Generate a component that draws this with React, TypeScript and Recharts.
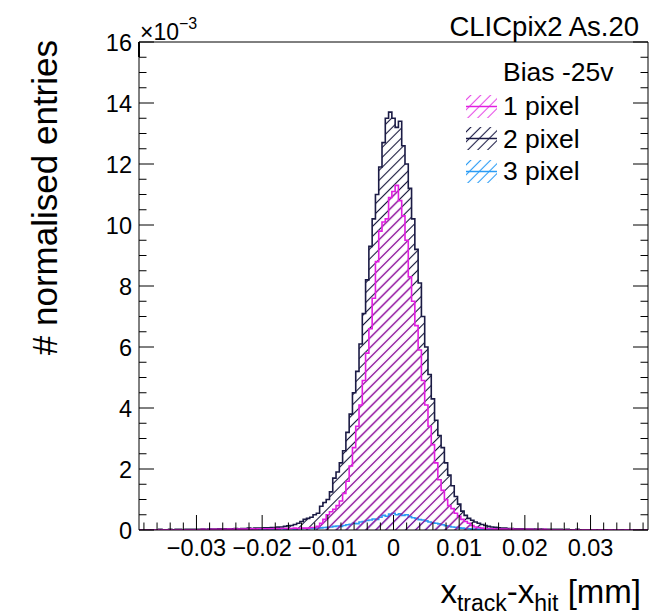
import { ComposedChart, Area, XAxis, YAxis, Legend } from "recharts";

// histogram binning (mm) and y values in units of 1e-3
const X_MIN = -0.03875;
const X_MAX = 0.03875;
const BIN_WIDTH = 0.0005;

const X_MAJOR = [-0.03, -0.02, -0.01, 0, 0.01, 0.02, 0.03];
const X_MAJOR_LABELS = ["\u22120.03", "\u22120.02", "\u22120.01", "0", "0.01", "0.02", "0.03"];
const X_MINOR = [
  -0.038, -0.036, -0.034, -0.032, -0.03, -0.028, -0.026, -0.024, -0.022, -0.02,
  -0.018, -0.016, -0.014, -0.012, -0.01, -0.008, -0.006, -0.004, -0.002, 0,
  0.002, 0.004, 0.006, 0.008, 0.01, 0.012, 0.014, 0.016, 0.018, 0.02,
  0.022, 0.024, 0.026, 0.028, 0.03, 0.032, 0.034, 0.036, 0.038,
];
const Y_MINOR = Array.from({ length: 33 }, (_, i) => i * 0.5);

// 2 pixel clusters
const TWO_PIXEL = [
  0.01, 0.01, 0.0, 0.01, 0.01, 0.01, 0.02, 0.01, 0.01, 0.02, 0.01, 0.02, 0.02, 0.01, 0.02, 0.02, 0.02, 0.02,
  0.02, 0.03, 0.02, 0.03, 0.03, 0.03, 0.04, 0.03, 0.04, 0.04,
  0.04, 0.05, 0.04, 0.05, 0.05, 0.06, 0.05, 0.06, 0.06,
  0.06, 0.07, 0.07, 0.08, 0.08, 0.1, 0.1, 0.12, 0.14, 0.15, 0.18,
  0.22, 0.28, 0.35, 0.38, 0.42, 0.5, 0.55, 0.78, 0.9, 1.0,
  1.25, 1.7, 1.9, 2.2, 2.6, 3.2, 3.8, 4.5, 5.2, 6.1,
  7.1, 8.2, 9.3, 10.2, 11.0, 11.9, 12.7, 13.5, 13.7,
  13.5,
  13.2, 13.4, 12.6, 12.0, 11.2, 10.2, 9.2, 8.1, 7.0, 6.0,
  5.1, 4.3, 3.6, 3.1, 2.7, 2.2, 1.8, 1.45, 1.1, 0.85,
  0.62, 0.48, 0.38, 0.32, 0.26, 0.22, 0.18, 0.15, 0.12, 0.1,
  0.09, 0.07, 0.06, 0.06, 0.05, 0.05, 0.04, 0.04, 0.04, 0.03,
  0.03, 0.03, 0.03, 0.02, 0.03, 0.02, 0.02, 0.02, 0.02, 0.02,
  0.02, 0.01, 0.02, 0.01, 0.01, 0.02, 0.01, 0.01, 0.01, 0.01,
  0.01, 0.01, 0.0, 0.01, 0.01, 0.0, 0.01, 0.01, 0.0, 0.01, 0.0, 0.01, 0.0, 0.0, 0.01, 0.0, 0.01,
];

// 1 pixel clusters
const ONE_PIXEL = [
  0.01, 0.0, 0.01, 0.0, 0.01, 0.01, 0.0, 0.01, 0.01, 0.01, 0.0, 0.01, 0.01, 0.01, 0.01, 0.01, 0.01, 0.01,
  0.01, 0.02, 0.01, 0.02, 0.02, 0.02, 0.02, 0.02, 0.02, 0.03,
  0.02, 0.03, 0.03, 0.03, 0.03, 0.03, 0.04, 0.03, 0.04,
  0.04, 0.04, 0.04, 0.04, 0.05, 0.04, 0.05, 0.05, 0.05, 0.05, 0.06,
  0.05, 0.06, 0.06, 0.06, 0.08, 0.08, 0.12, 0.22, 0.35, 0.5,
  0.6, 0.68, 0.8, 0.95, 1.2, 1.6, 2.1, 2.7, 3.4, 4.1,
  4.9, 5.8, 6.6, 7.6, 8.8, 9.8, 10.1, 10.2, 10.9,
  11.1,
  11.3, 10.8, 10.3, 9.5, 8.3, 7.5, 6.7, 5.9, 4.9, 4.1,
  3.4, 2.8, 2.2, 1.65, 1.3, 1.0, 0.8, 0.7, 0.55, 0.45,
  0.35, 0.28, 0.22, 0.15, 0.1, 0.08, 0.06, 0.05, 0.04, 0.04,
  0.03, 0.03, 0.03, 0.03, 0.02, 0.03, 0.02, 0.02, 0.02, 0.02,
  0.02, 0.02, 0.01, 0.02, 0.01, 0.02, 0.01, 0.01, 0.01, 0.01,
  0.01, 0.01, 0.01, 0.0, 0.01, 0.01, 0.0, 0.01, 0.01, 0.0,
  0.01, 0.0, 0.01, 0.0, 0.0, 0.01, 0.0, 0.01, 0.0, 0.0, 0.01, 0.0, 0.0, 0.01, 0.0, 0.0, 0.01,
];

// 3 pixel clusters
const THREE_PIXEL = [
  0.01, 0.0, 0.0, 0.01, 0.0, 0.01, 0.0, 0.0, 0.01, 0.0, 0.01, 0.01, 0.0, 0.01, 0.01, 0.0, 0.01, 0.01,
  0.01, 0.01, 0.01, 0.02, 0.01, 0.01, 0.02, 0.01, 0.02, 0.02,
  0.02, 0.01, 0.02, 0.02, 0.02, 0.03, 0.02, 0.02, 0.03,
  0.02, 0.03, 0.03, 0.02, 0.03, 0.03, 0.04, 0.03, 0.04, 0.04, 0.03,
  0.04, 0.04, 0.05, 0.04, 0.05, 0.05, 0.06, 0.07, 0.08, 0.09,
  0.1, 0.12, 0.13, 0.12, 0.15, 0.17, 0.19, 0.22, 0.21, 0.26,
  0.28, 0.31, 0.33, 0.36, 0.35, 0.42, 0.48, 0.45, 0.52,
  0.55,
  0.5, 0.53, 0.48, 0.5, 0.44, 0.4, 0.38, 0.34, 0.33, 0.3,
  0.26, 0.24, 0.22, 0.2, 0.17, 0.14, 0.12, 0.1, 0.09, 0.07,
  0.06, 0.05, 0.04, 0.03, 0.03, 0.03, 0.03, 0.02, 0.03, 0.02,
  0.02, 0.02, 0.02, 0.01, 0.02, 0.01, 0.02, 0.01, 0.01, 0.01,
  0.01, 0.01, 0.01, 0.0, 0.01, 0.01, 0.0, 0.01, 0.01, 0.0,
  0.01, 0.0, 0.01, 0.0, 0.0, 0.01, 0.0, 0.0, 0.01, 0.0,
  0.0, 0.01, 0.0, 0.0, 0.01, 0.0, 0.0, 0.0, 0.01, 0.0, 0.0, 0.01, 0.0, 0.0, 0.0, 0.01, 0.0,
];

const TITLE = "CLICpix2 As.20";
const LEGEND_TITLE = "Bias -25v";
const SERIES_LABELS = ["1 pixel", "2 pixel", "3 pixel"];

const FONT = "'Liberation Sans', Arial, Helvetica, sans-serif";
const MAGENTA = "#e11ee1";
const NAVY = "#1b1b45";
const BLUE = "#2b9cf5";

const legendStyle = [
  { id: "lg1", color: MAGENTA, opacity: 0.8 },
  { id: "lg2", color: NAVY, opacity: 1 },
  { id: "lg3", color: BLUE, opacity: 1 },
];

// one row per bin lower edge, plus closing edge so the last step is drawn
const rows = TWO_PIXEL.map((_, i) => ({
  x: X_MIN + i * BIN_WIDTH,
  one: ONE_PIXEL[i],
  two: TWO_PIXEL[i],
  three: THREE_PIXEL[i],
}));
rows.push({
  x: X_MAX,
  one: ONE_PIXEL[ONE_PIXEL.length - 1],
  two: TWO_PIXEL[TWO_PIXEL.length - 1],
  three: THREE_PIXEL[THREE_PIXEL.length - 1],
});

const isMajorX = (v: number) => Math.abs(v * 100 - Math.round(v * 100)) < 1e-6;
const isMajorY = (v: number) => Math.abs(v / 2 - Math.round(v / 2)) < 1e-6;
const MAJOR_LEN = 15;
const MINOR_LEN = 7.5;
const TICK_FONT = 23.5;

const Hatch = ({ id, color, width }: { id: string; color: string; width: number }) => (
  <pattern id={id} patternUnits="userSpaceOnUse" width={7} height={7} patternTransform="rotate(45)">
    <line x1={3.5} y1={-1} x2={3.5} y2={8} stroke={color} strokeWidth={width} />
  </pattern>
);

const BottomTick = (props: any) => {
  const { x, y, payload } = props;
  const v = payload.value as number;
  const major = isMajorX(v);
  const idx = X_MAJOR.findIndex((m) => Math.abs(m - v) < 1e-9);
  return (
    <g>
      <line x1={x} x2={x} y1={y} y2={y - (major ? MAJOR_LEN : MINOR_LEN)} stroke="#000" strokeWidth={1} />
      {idx >= 0 && (
        <text x={x} y={y + 26} textAnchor="middle" fontSize={TICK_FONT} fontFamily={FONT} fill="#000">
          {X_MAJOR_LABELS[idx]}
        </text>
      )}
    </g>
  );
};

const TopTick = (props: any) => {
  const { x, y, payload } = props;
  const major = isMajorX(payload.value);
  return <line x1={x} x2={x} y1={y} y2={y + (major ? MAJOR_LEN : MINOR_LEN)} stroke="#000" strokeWidth={1} />;
};

const LeftTick = (props: any) => {
  const { x, y, payload } = props;
  const v = payload.value as number;
  const major = isMajorY(v);
  return (
    <g>
      <line x1={x} x2={x + (major ? MAJOR_LEN : MINOR_LEN)} y1={y} y2={y} stroke="#000" strokeWidth={1} />
      {major && (
        <text x={x - 7} y={y + 8.5} textAnchor="end" fontSize={TICK_FONT} fontFamily={FONT} fill="#000">
          {v}
        </text>
      )}
    </g>
  );
};

const RightTick = (props: any) => {
  const { x, y, payload } = props;
  const major = isMajorY(payload.value);
  return <line x1={x} x2={x - (major ? MAJOR_LEN : MINOR_LEN)} y1={y} y2={y} stroke="#000" strokeWidth={1} />;
};

const LegendBox = () => (
  <div style={{ fontFamily: FONT, fontSize: 26.5, color: "#000", lineHeight: 1 }}>
    <div style={{ height: 35, display: "flex", alignItems: "center", paddingLeft: 37 }}>{LEGEND_TITLE}</div>
    {SERIES_LABELS.map((label, i) => {
      const s = legendStyle[i];
      return (
        <div key={label} style={{ height: 32.5, display: "flex", alignItems: "center" }}>
          <svg width={31} height={23} style={{ marginRight: 6, display: "block" }}>
            <defs>
              <Hatch id={s.id} color={s.color} width={1.1} />
            </defs>
            <rect width={31} height={23} fill={`url(#${s.id})`} fillOpacity={s.opacity} />
            <line x1={0} x2={31} y1={11.5} y2={11.5} stroke={s.color} strokeWidth={1.5} />
          </svg>
          <span>{label}</span>
        </div>
      );
    })}
  </div>
);

export default function App() {
  return (
    <div style={{ width: 652, height: 616, background: "#fff" }}>
      <style>{"body{margin:0}"}</style>
      <ComposedChart
        width={652}
        height={616}
        data={rows}
        margin={{ top: 41, right: 3, bottom: 46, left: 99 }}
      >
        <defs>
          <Hatch id="hatch2" color="#141438" width={1.1} />
          <Hatch id="hatch1" color={MAGENTA} width={1.3} />
          <Hatch id="hatch3" color={BLUE} width={1.1} />
        </defs>
        <XAxis
          xAxisId="b"
          dataKey="x"
          type="number"
          domain={[X_MIN, X_MAX]}
          allowDataOverflow
          ticks={X_MINOR}
          interval={0}
          tickLine={false}
          tickSize={0}
          tickMargin={0}
          height={40}
          axisLine={{ stroke: "#000", strokeWidth: 1 }}
          tick={<BottomTick />}
        />
        <XAxis
          xAxisId="t"
          orientation="top"
          type="number"
          domain={[X_MIN, X_MAX]}
          allowDataOverflow
          ticks={X_MINOR}
          interval={0}
          tickLine={false}
          tickSize={0}
          tickMargin={0}
          height={1}
          axisLine={{ stroke: "#000", strokeWidth: 1 }}
          tick={<TopTick />}
        />
        <YAxis
          yAxisId="l"
          type="number"
          domain={[0, 16]}
          allowDataOverflow
          ticks={Y_MINOR}
          interval={0}
          tickLine={false}
          tickSize={0}
          tickMargin={0}
          width={40}
          axisLine={{ stroke: "#000", strokeWidth: 1 }}
          tick={<LeftTick />}
        />
        <YAxis
          yAxisId="r"
          orientation="right"
          type="number"
          domain={[0, 16]}
          allowDataOverflow
          ticks={Y_MINOR}
          interval={0}
          tickLine={false}
          tickSize={0}
          tickMargin={0}
          width={1}
          axisLine={{ stroke: "#000", strokeWidth: 1 }}
          tick={<RightTick />}
        />
        <Area
          xAxisId="b"
          yAxisId="l"
          type="stepAfter"
          dataKey="three"
          name={SERIES_LABELS[2]}
          stroke={BLUE}
          strokeWidth={1.6}
          fill="url(#hatch3)"
          fillOpacity={1}
          dot={false}
          activeDot={false}
          isAnimationActive={false}
        />
        <Area
          xAxisId="b"
          yAxisId="l"
          type="stepAfter"
          dataKey="two"
          name={SERIES_LABELS[1]}
          stroke={NAVY}
          strokeWidth={1.6}
          fill="url(#hatch2)"
          fillOpacity={1}
          dot={false}
          activeDot={false}
          isAnimationActive={false}
        />
        <Area
          xAxisId="b"
          yAxisId="l"
          type="stepAfter"
          dataKey="one"
          name={SERIES_LABELS[0]}
          stroke={MAGENTA}
          strokeWidth={1.6}
          fill="url(#hatch1)"
          fillOpacity={0.7}
          dot={false}
          activeDot={false}
          isAnimationActive={false}
        />
        <Legend
          layout="horizontal"
          align="center"
          verticalAlign="middle"
          wrapperStyle={{ left: 466, top: 55, width: 185 }}
          content={() => <LegendBox />}
        />
        <text x={639} y={36} textAnchor="end" fontSize={27.5} fontFamily={FONT} fill="#000">
          {TITLE}
        </text>
        <text x={140} y={40} fontSize={23} fontFamily={FONT} fill="#000">
          {"\u00d710"}
          <tspan dy={-11} fontSize={16}>{"\u22123"}</tspan>
        </text>
        <text
          x={57}
          y={40}
          transform="rotate(-90, 57, 40)"
          textAnchor="end"
          fontSize={35}
          fontFamily={FONT}
          fill="#000"
        >
          # normalised entries
        </text>
        <text x={641} y={603} textAnchor="end" fontSize={33} fontFamily={FONT} fill="#000">
          x<tspan dy={8} fontSize={23}>track</tspan>
          <tspan dy={-8}>-x</tspan>
          <tspan dy={8} fontSize={23}>hit</tspan>
          <tspan dy={-8}> [mm]</tspan>
        </text>
      </ComposedChart>
    </div>
  );
}
